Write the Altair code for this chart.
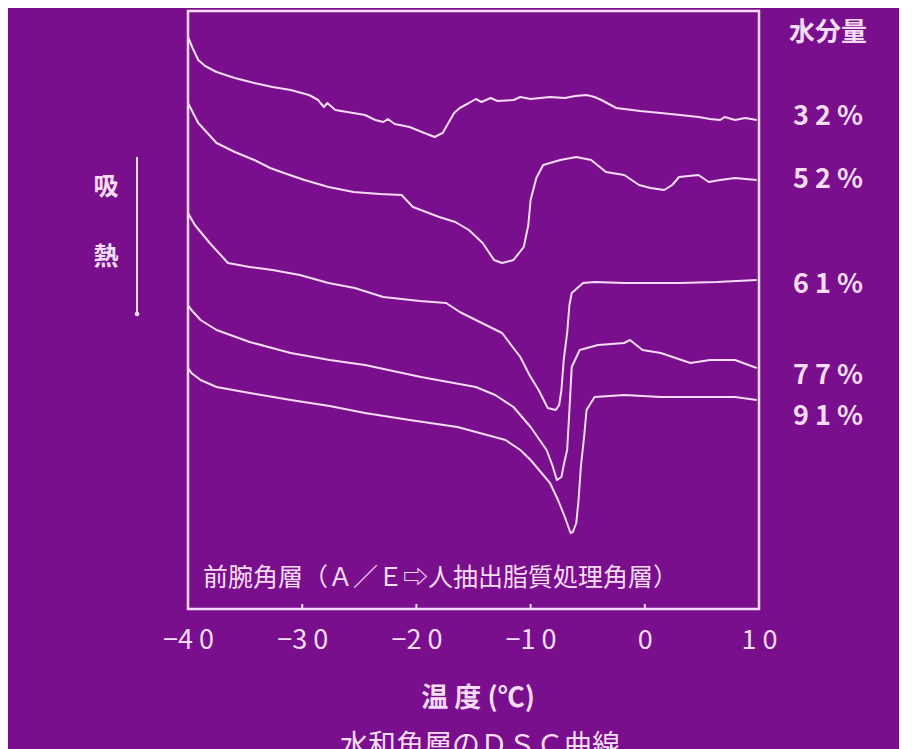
import altair as alt
import pandas as pd

# ---- data (temperature in degC, DSC signal in arbitrary units) ----
T32 = [-40.0, -39.6, -39.1, -38.5, -37.5, -35.9, -34.2, -32.6, -31.0, -29.4, -28.6, -28.4, -28.1, -27.8,
       -27.1, -24.5, -23.6, -22.9, -22.5, -21.9, -20.6, -19.3, -18.4, -17.9, -17.7, -17.3, -16.7, -16.2,
       -15.4, -14.8, -14.3, -13.5, -12.9, -11.5, -10.9, -10.0, -8.3, -7.0, -6.1, -5.1, -4.4, -3.8, -2.5,
       -0.4, 1.4, 3.1, 4.7, 5.7, 6.6, 7.0, 7.9, 8.8, 9.8]
S32 = [572, 561, 549, 543, 537, 531, 526, 522, 519, 514, 509, 506, 502, 506,
       499, 494, 489, 487, 490, 485, 482, 476, 472, 475, 476, 484, 496, 501,
       506, 510, 507, 511, 508, 509, 512, 510, 512, 511, 513, 514, 512, 509, 501,
       498, 496, 494, 492, 490, 489, 492, 489, 491, 489]

T52 = [-40.0, -39.6, -39.1, -37.5, -35.9, -34.2, -32.8, -31.6, -29.8, -27.7, -25.5, -23.2, -21.3, -20.3,
       -18.0, -16.6, -15.4, -14.2, -13.2, -12.5, -11.5, -10.6, -10.2, -10.0, -9.5, -8.9, -7.4, -6.0,
       -4.7, -3.4, -1.8, -0.5, 0.5, 1.7, 2.4, 3.0, 4.7, 5.6, 6.6, 7.9, 9.8]
S52 = [506, 497, 486, 466, 457, 449, 441, 436, 429, 422, 417, 415, 414, 402,
       392, 387, 379, 366, 349, 346, 349, 362, 384, 409, 431, 444, 449, 452,
       449, 437, 434, 424, 421, 419, 424, 432, 434, 427, 429, 431, 429]

T61 = [-40.0, -39.4, -38.1, -36.5, -34.6, -32.6, -30.2, -27.7, -25.4, -22.9, -19.7, -17.4, -16.2, -14.8,
       -12.5, -10.9, -10.1, -9.3, -8.5, -7.8, -7.5, -7.3, -7.1, -6.8, -6.6, -6.4, -5.4, -4.4, -1.8,
       3.0, 6.3, 9.8]
S61 = [396, 384, 366, 346, 342, 339, 334, 326, 321, 312, 308, 306, 297, 289,
       276, 252, 234, 219, 201, 199, 204, 219, 249, 276, 304, 316, 326, 327, 326,
       326, 327, 329]

T77 = [-40.0, -39.7, -38.9, -37.5, -34.6, -31.0, -27.6, -24.5, -19.6, -14.8, -13.1, -11.5, -10.0, -8.6,
       -8.1, -7.7, -7.3, -7.1, -6.8, -6.6, -6.4, -5.7, -4.1, -1.8, -1.3, -0.2, 1.4, 4.0, 5.7, 7.9, 9.8]
S77 = [304, 299, 289, 279, 267, 256, 249, 244, 232, 222, 214, 202, 182, 159,
       144, 129, 132, 144, 159, 199, 242, 259, 264, 266, 269, 259, 256, 246, 249, 249, 241]

T91 = [-40.0, -39.7, -38.9, -37.5, -34.6, -31.0, -27.6, -24.5, -20.6, -16.4, -12.2, -10.9, -10.0, -8.3,
       -7.6, -7.0, -6.5, -6.3, -6.0, -5.8, -5.6, -5.3, -5.1, -4.4, -1.8, 1.4, 7.9, 9.8]
S91 = [241, 236, 229, 222, 216, 209, 203, 196, 189, 182, 169, 159, 149, 126,
       109, 92, 76, 77, 86, 109, 142, 174, 199, 212, 214, 212, 212, 209]

series_names = ["32%", "52%", "61%", "77%", "91%"]
series_T = [T32, T52, T61, T77, T91]
series_S = [S32, S52, S61, S77, S91]

pct_labels = ["3 2 %", "5 2 %", "6 1 %", "7 7 %", "9 1 %"]
pct_levels = [492, 429, 324, 233, 192]

tick_values = [-40, -30, -20, -10, 0, 10]
tick_texts = ["−4 0", "−3 0", "−2 0", "−1 0", "0", "1 0"]
inner_ticks = [-30, -20, -10, 0]

x_title = "温 度 (℃)"
caption = "前腕角層（Ａ／Ｅ⇨人抽出脂質処理角層）"
legend_title = "水分量"
side_a = "吸"
side_b = "熱"
bottom_title = "水和角層のＤＳＣ曲線"

# ---- build table ----
rows = []
for name, ts, ss in zip(series_names, series_T, series_S):
    for i, (t, s) in enumerate(zip(ts, ss)):
        rows.append({"series": name, "T": t, "S": s, "i": i})
df = pd.DataFrame(rows)

FG = "#f6dcf6"
FONT = "Noto Sans CJK JP"
W, H = 571, 598

xscale = alt.Scale(domain=[-40, 10], nice=False, zero=False)
yscale = alt.Scale(domain=[0, 598], nice=False, zero=False)

label_expr = "[" + ",".join("'" + t + "'" for t in tick_texts) + "][indexof([" + \
    ",".join(str(v) for v in tick_values) + "], datum.value)]"

lines = alt.Chart(df).mark_line(color=FG, strokeWidth=2, strokeJoin="round").encode(
    x=alt.X("T:Q", scale=xscale,
            axis=alt.Axis(values=tick_values, labelExpr=label_expr, title=None, domain=False,
                          ticks=False, grid=False, labelFont=FONT, labelFontSize=27,
                          labelColor=FG, labelPadding=18, labelFlush=False, labelOverlap=False)),
    y=alt.Y("S:Q", scale=yscale, axis=None),
    detail="series:N",
    order="i:Q",
)

ticks = alt.Chart(pd.DataFrame({"T": inner_ticks})).mark_rule(color=FG, strokeWidth=2).encode(
    x=alt.X("T:Q", scale=xscale), y=alt.value(H), y2=alt.value(H - 5)
)

pct = alt.Chart(pd.DataFrame({"lab": pct_labels, "lev": pct_levels})).mark_text(
    font=FONT, fontSize=27, fontWeight="bold", color=FG, align="left", baseline="middle"
).encode(x=alt.value(605), y=alt.Y("lev:Q", scale=yscale), text="lab:N")


def txt(s, x, y, size, weight="normal", align="center", baseline="middle"):
    return alt.Chart(pd.DataFrame({"t": [s]})).mark_text(
        font=FONT, fontSize=size, fontWeight=weight, color=FG, align=align, baseline=baseline
    ).encode(x=alt.value(x), y=alt.value(y), text="t:N")


t_legend = txt(legend_title, 640, 22, 26, "bold")
t_a = txt(side_a, -82, 176, 25, "bold")
t_b = txt(side_b, -82, 246, 25, "bold")
t_caption = txt(caption, 15, 567, 25, "normal", "left")
t_xtitle = txt(x_title, 290, 688, 27, "bold")
t_bottom = txt(bottom_title, 292, 722, 28, "normal", "center", "top")

arrow = alt.Chart(pd.DataFrame({"a": [0]})).mark_rule(color=FG, strokeWidth=2).encode(
    x=alt.value(-51), y=alt.value(146), y2=alt.value(302)
)
arrow_dot = alt.Chart(pd.DataFrame({"a": [0]})).mark_point(
    color=FG, filled=True, size=22, opacity=1
).encode(x=alt.value(-51), y=alt.value(303))

chart = alt.layer(
    lines, ticks, pct, t_legend, t_a, t_b, t_caption, t_xtitle, t_bottom, arrow, arrow_dot
).properties(
    width=W, height=H,
    autosize=alt.AutoSizeParams(type="none"),
    padding={"left": 180, "top": 3, "right": 140, "bottom": 140},
    background="#7a0f8e",
).configure_view(
    stroke=FG, strokeWidth=2.5
)

chart.save("out.html", embed_options={"renderer": "svg", "actions": False})
